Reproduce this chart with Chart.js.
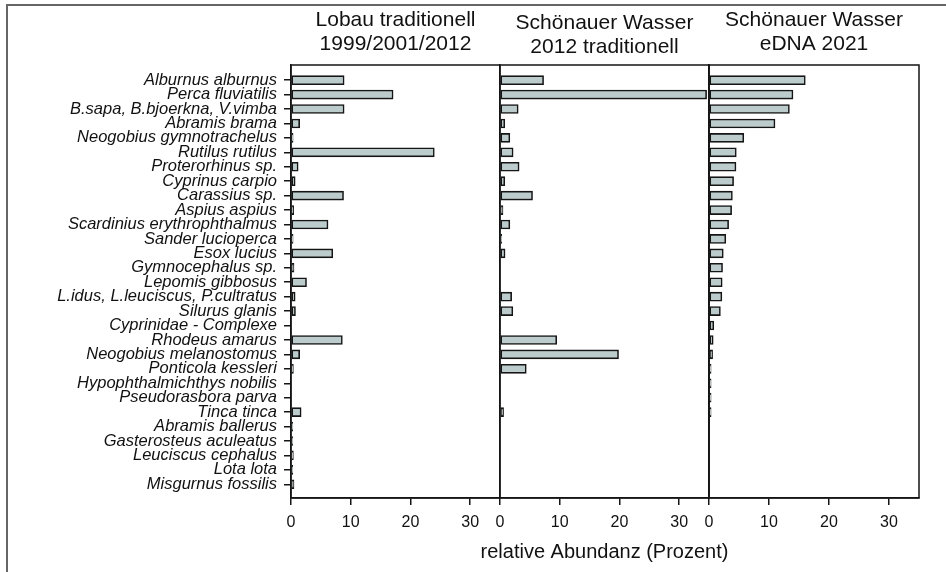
<!DOCTYPE html>
<html><head><meta charset="utf-8">
<script src="https://cdn.jsdelivr.net/npm/chart.js@4.4.1/dist/chart.umd.min.js"></script>
<style>
html,body{margin:0;padding:0;background:#fff;}
#wrap{position:relative;width:946px;height:572px;overflow:hidden;background:#fff;}
#frame{position:absolute;left:6px;top:4px;width:960px;height:600px;border-top:2px solid #666;border-left:2px solid #666;}
.cv{position:absolute;top:0;}
#err{position:absolute;left:520px;top:100px;width:400px;font:12px monospace;color:red;}
</style></head><body>
<div id="wrap">
<div id="frame"></div>
<div class="cv" style="left:0px;width:500px;height:572px"><canvas id="c1" width="500" height="572"></canvas></div>
<div class="cv" style="left:400px;width:350px;height:572px"><canvas id="c2" width="350" height="572"></canvas></div>
<div class="cv" style="left:659px;width:287px;height:572px"><canvas id="c3" width="287" height="572"></canvas></div>
<div id="err"></div>
</div>
<script>
const categories = [
  "Alburnus alburnus","Perca fluviatilis","B.sapa, B.bjoerkna, V.vimba","Abramis brama",
  "Neogobius gymnotrachelus","Rutilus rutilus","Proterorhinus sp.","Cyprinus carpio",
  "Carassius sp.","Aspius aspius","Scardinius erythrophthalmus","Sander lucioperca",
  "Esox lucius","Gymnocephalus sp.","Lepomis gibbosus","L.idus, L.leuciscus, P.cultratus",
  "Silurus glanis","Cyprinidae - Complexe","Rhodeus amarus","Neogobius melanostomus",
  "Ponticola kessleri","Hypophthalmichthys nobilis","Pseudorasbora parva","Tinca tinca",
  "Abramis ballerus","Gasterosteus aculeatus","Leuciscus cephalus","Lota lota","Misgurnus fossilis"
];
const lobau = [8.9,17.1,8.9,1.45,0.35,24.0,1.2,0.7,8.8,0.45,6.2,0.35,7.0,0.5,2.6,0.7,0.75,0,8.6,1.45,0.4,0,0,1.7,0.3,0.3,0.4,0.3,0.5];
const schoenTrad = [7.3,34.6,3.05,0.8,1.65,2.2,3.2,0.8,5.45,0.5,1.65,0.3,0.85,0,0,1.95,2.15,0,9.5,19.85,4.4,0,0,0.6,0,0,0,0,0];
const schoenEdna = [16.05,14.0,13.4,11.0,5.8,4.55,4.5,4.1,3.9,3.77,3.27,2.8,2.38,2.26,2.2,2.15,1.9,0.8,0.7,0.6,0.35,0.35,0.35,0.35,0,0,0,0,0];
const xTicks = [0,10,20,30];
const panelTitles = [["Lobau traditionell","1999/2001/2012"],["Schönauer Wasser","2012 traditionell"],["Schönauer Wasser","eDNA 2021"]];
const xTitle = "relative Abundanz (Prozent)";

const FONT = '"Liberation Sans", Arial, Helvetica, sans-serif';
const INK = '#151515';

const framePlugin = {
  id: 'panelFrame',
  afterDraw(chart) {
    const a = chart.chartArea, ctx = chart.ctx;
    ctx.save();
    ctx.strokeStyle = INK;
    ctx.lineWidth = 1.5;
    ctx.strokeRect(a.left, a.top, a.right - a.left, a.bottom - a.top);
    const t = chart.options.plugins.panelFrame;
    if (t && t.text) {
      ctx.fillStyle = '#111';
      ctx.font = '20px ' + FONT;
      ctx.textAlign = 'center';
      ctx.textBaseline = 'middle';
      ctx.fillText(t.text, (a.left + a.right) / 2, 552);
    }
    ctx.restore();
  }
};

function makeChart(id, values, title, opts) {
  const ctx = document.getElementById(id);
  return new Chart(ctx, {
    type: 'bar',
    data: {
      datasets: [{
        data: values.map((v, i) => ({x: v, y: i})),
        backgroundColor: '#bccbcc',
        borderColor: INK,
        borderWidth: 1.6,
        borderSkipped: false,
        barThickness: 9
      }]
    },
    options: {
      indexAxis: 'y',
      responsive: false,
      animation: false,
      layout: {padding: {left: opts.padLeft, right: opts.padRight, top: 0, bottom: 0}},
      plugins: {
        legend: {display: false},
        tooltip: {enabled: false},
        panelFrame: {text: opts.xTitle ? xTitle : ''},
        title: {
          display: true,
          text: title,
          fullSize: false,
          color: '#111',
          font: {family: FONT, size: 21, weight: 'normal', lineHeight: '24px'},
          padding: {top: opts.titleTop, bottom: 17 - opts.titleTop}
        }
      },
      scales: {
        x: {
          type: 'linear',
          position: 'bottom',
          min: 0,
          max: 35,
          afterBuildTicks: s => { s.ticks = xTicks.map(v => ({value: v})); },
          afterFit: s => { s.height = 74; },
          ticks: {font: {family: FONT, size: 16}, color: '#111', padding: 8, maxRotation: 0, autoSkip: false},
          grid: {drawOnChartArea: false, drawTicks: true, tickLength: 7, color: INK, lineWidth: 1.5},
          border: {display: true, color: INK, width: 1.5}
        },
        y: {
          type: 'linear',
          reverse: true,
          offset: false,
          min: -1.05,
          max: 28.95,
          afterBuildTicks: s => { s.ticks = categories.map((_, i) => ({value: i})); },
          afterFit: s => { s.width = opts.showY ? 291 : 0; },
          ticks: {
            display: opts.showY,
            autoSkip: false,
            callback: (v) => categories[Math.round(v)],
            font: {family: FONT, size: 16.5, style: 'italic'},
            color: '#111',
            padding: 7
          },
          grid: {display: opts.showY, offset: false, drawOnChartArea: false, drawTicks: opts.showY, tickLength: 7, color: INK, lineWidth: 1.5},
          border: {display: true, color: INK, width: 1.5}
        }
      }
    },
    plugins: [framePlugin]
  });
}

const specs = [
  ['c1', lobau, panelTitles[0], {padLeft: 0, padRight: 0, titleTop: 8, showY: true, xTitle: false}],
  ['c2', schoenTrad, panelTitles[1], {padLeft: 100, padRight: 41, titleTop: 11, showY: false, xTitle: true}],
  ['c3', schoenEdna, panelTitles[2], {padLeft: 50, padRight: 27, titleTop: 8, showY: false, xTitle: false}]
];
for (const s of specs) {
  try { makeChart(...s); }
  catch (e) { document.getElementById('err').textContent += s[0] + ': ' + e.message + ' '; }
}
</script>
</body></html>
